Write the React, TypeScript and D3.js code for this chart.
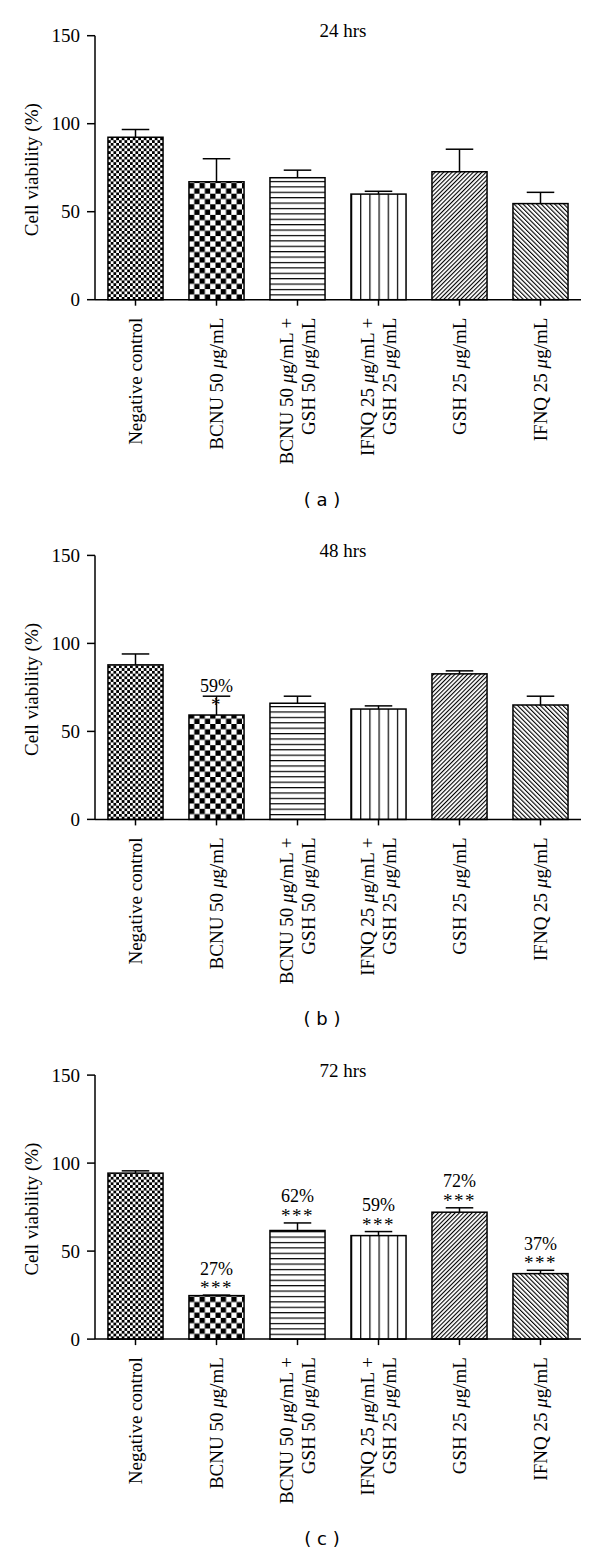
import React from 'react';
import * as d3 from 'd3';

// ---------- data ----------
const CATEGORY_LABELS: string[][] = [
  ['Negative control'],
  ['BCNU 50 μg/mL'],
  ['BCNU 50 μg/mL +', 'GSH 50 μg/mL'],
  ['IFNQ 25 μg/mL +', 'GSH 25 μg/mL'],
  ['GSH 25 μg/mL'],
  ['IFNQ 25 μg/mL'],
];
const CATEGORY_KEYS = ['neg', 'bcnu', 'bcnu_gsh', 'ifnq_gsh', 'gsh', 'ifnq'];

const TITLES = ['24 hrs', '48 hrs', '72 hrs'];
const PANEL_TAGS = ['( a )', '( b )', '( c )'];

const MEAN_24 = [92.3, 67.0, 69.3, 60.0, 72.7, 54.6];
const SEM_24 = [4.4, 13.1, 4.3, 1.6, 12.8, 6.4];
const MEAN_48 = [87.8, 59.3, 66.0, 62.7, 82.7, 65.0];
const SEM_48 = [6.2, 10.7, 4.0, 1.8, 1.7, 5.0];
const MEAN_72 = [94.3, 24.7, 61.7, 58.8, 72.1, 37.2];
const SEM_72 = [1.3, 0.3, 4.3, 2.3, 2.5, 1.9];

const PCT_48 = ['', '59%', '', '', '', ''];
const STARS_48 = ['', '*', '', '', '', ''];
const PCT_72 = ['', '27%', '62%', '59%', '72%', '37%'];
const STARS_72 = ['', '***', '***', '***', '***', '***'];

const Y_TICKS = [0, 50, 100, 150];

const PANELS = [
  { title: TITLES[0], tag: PANEL_TAGS[0], mean: MEAN_24, sem: SEM_24, pct: null as string[] | null, stars: null as string[] | null, anchorOnMean: false },
  { title: TITLES[1], tag: PANEL_TAGS[1], mean: MEAN_48, sem: SEM_48, pct: PCT_48, stars: STARS_48, anchorOnMean: true },
  { title: TITLES[2], tag: PANEL_TAGS[2], mean: MEAN_72, sem: SEM_72, pct: PCT_72, stars: STARS_72, anchorOnMean: false },
];

// ---------- layout ----------
const W = 600;
const H = 1555;
const X0 = 95;
const X1 = 581;
const PLOT_H = 264;
const FIRST_TOP = 35.7;
const PANEL_STEP = 519.7;
const SERIF = '"Liberation Serif", "Times New Roman", serif';
const SANS = '"DejaVu Sans", Verdana, sans-serif';

function MuText({ s }: { s: string }) {
  const parts = s.split('μ');
  const out: React.ReactNode[] = [];
  parts.forEach((p, i) => {
    if (i > 0) out.push(<tspan key={'m' + i} fontStyle="italic">μ</tspan>);
    out.push(<tspan key={'t' + i}>{p}</tspan>);
  });
  return <>{out}</>;
}

function Patterns({ pi, x, y0, bw }: { pi: number; x: d3.ScaleBand<string>; y0: number; bw: number }) {
  const ids = CATEGORY_KEYS.map((k) => `p${pi}-${k}`);
  const bx = (k: string) => x(k) as number;
  const fc = 2.75;
  const cc = 5.3;
  const vs = bw / 6;
  return (
    <>
      <pattern id={ids[0]} patternUnits="userSpaceOnUse" x={bx(CATEGORY_KEYS[0])} y={y0} width={fc * 2} height={fc * 2}>
        <rect width={fc * 2} height={fc * 2} fill="#fff" />
        <rect x={0} y={0} width={fc} height={fc} fill="#000" />
        <rect x={fc} y={fc} width={fc} height={fc} fill="#000" />
      </pattern>
      <pattern id={ids[1]} patternUnits="userSpaceOnUse" x={bx(CATEGORY_KEYS[1])} y={y0} width={cc * 2} height={cc * 2}>
        <rect width={cc * 2} height={cc * 2} fill="#fff" />
        <rect x={0} y={0} width={cc} height={cc} fill="#000" />
        <rect x={cc} y={cc} width={cc} height={cc} fill="#000" />
      </pattern>
      <pattern id={ids[2]} patternUnits="userSpaceOnUse" x={bx(CATEGORY_KEYS[2])} y={y0} width={10} height={5.4}>
        <rect width={10} height={5.4} fill="#fff" />
        <line x1={0} x2={10} y1={0.6} y2={0.6} stroke="#000" strokeWidth={1.2} />
      </pattern>
      <pattern id={ids[3]} patternUnits="userSpaceOnUse" x={bx(CATEGORY_KEYS[3])} y={y0} width={vs} height={10}>
        <rect width={vs} height={10} fill="#fff" />
        <line x1={0} x2={0} y1={0} y2={10} stroke="#000" strokeWidth={2.4} />
      </pattern>
      <pattern id={ids[4]} patternUnits="userSpaceOnUse" x={bx(CATEGORY_KEYS[4])} y={y0} width={3.0} height={10} patternTransform="rotate(45)">
        <rect width={3.0} height={10} fill="#fff" />
        <line x1={0} x2={0} y1={0} y2={10} stroke="#000" strokeWidth={2.2} />
      </pattern>
      <pattern id={ids[5]} patternUnits="userSpaceOnUse" x={bx(CATEGORY_KEYS[5])} y={y0} width={3.2} height={10} patternTransform="rotate(-45)">
        <rect width={3.2} height={10} fill="#fff" />
        <line x1={0} x2={0} y1={0} y2={10} stroke="#000" strokeWidth={2.2} />
      </pattern>
    </>
  );
}

function Panel({ pi }: { pi: number }) {
  const p = PANELS[pi];
  const top = FIRST_TOP + pi * PANEL_STEP;
  const y = d3.scaleLinear().domain([0, 150]).range([top + PLOT_H, top]);
  const x = d3.scaleBand<string>().domain(CATEGORY_KEYS).range([X0, X1]).paddingInner(0.32).paddingOuter(0.16);
  const bw = x.bandwidth();
  const y0 = y(0);
  const sw = 1.5;
  return (
    <g>
      <defs>
        <Patterns pi={pi} x={x} y0={y0} bw={bw} />
      </defs>
      {/* title */}
      <text x={343} y={top + 1.5} fontFamily={SERIF} fontSize={19} textAnchor="middle">{p.title}</text>
      {/* bars */}
      {CATEGORY_KEYS.map((k, i) => {
        const bx = x(k) as number;
        const cx = bx + bw / 2;
        const yt = y(p.mean[i]);
        const ye = y(p.mean[i] + p.sem[i]);
        const ya = p.anchorOnMean ? yt - 3 : ye;
        return (
          <g key={k}>
            <line x1={cx} x2={cx} y1={yt} y2={ye} stroke="#000" strokeWidth={sw} />
            <line x1={cx - bw / 4} x2={cx + bw / 4} y1={ye} y2={ye} stroke="#000" strokeWidth={sw} />
            <rect x={bx} y={yt} width={bw} height={y0 - yt} fill={`url(#p${pi}-${k})`} stroke="#000" strokeWidth={sw} />
            {p.stars && p.stars[i] ? (
              <text x={cx} y={ya - 1} fontFamily={SERIF} fontSize={19} textAnchor="middle" letterSpacing={1.5}>{p.stars[i]}</text>
            ) : null}
            {p.pct && p.pct[i] ? (
              <text x={cx} y={ya - 20.5} fontFamily={SERIF} fontSize={18} textAnchor="middle">{p.pct[i]}</text>
            ) : null}
          </g>
        );
      })}
      {/* y axis */}
      <line x1={X0} x2={X0} y1={y(150)} y2={y0} stroke="#000" strokeWidth={sw} />
      {Y_TICKS.map((t) => (
        <g key={t}>
          <line x1={X0 - 8} x2={X0} y1={y(t)} y2={y(t)} stroke="#000" strokeWidth={sw} />
          <text x={X0 - 15} y={y(t)} dy="0.35em" fontFamily={SERIF} fontSize={19} textAnchor="end">{t}</text>
        </g>
      ))}
      <text transform={`translate(${38},${(y(150) + y0) / 2 + 2}) rotate(-90)`} fontFamily={SERIF} fontSize={19} textAnchor="middle">Cell viability (%)</text>
      {/* x axis */}
      <line x1={X0} x2={X1} y1={y0} y2={y0} stroke="#000" strokeWidth={sw} />
      {CATEGORY_KEYS.map((k, i) => {
        const cx = (x(k) as number) + bw / 2;
        const lines = CATEGORY_LABELS[i];
        const offs = lines.length === 1 ? [0] : [-11.5, 11];
        return (
          <g key={'xt' + k}>
            <line x1={cx} x2={cx} y1={y0} y2={y0 + 6} stroke="#000" strokeWidth={sw} />
            <text transform={`translate(${cx},${y0 + 18}) rotate(-90)`} fontFamily={SERIF} fontSize={19} textAnchor="end">
              {lines.map((ln, j) => (
                <tspan key={j} x={0} y={offs[j]} dy="0.35em">
                  <MuText s={ln} />
                </tspan>
              ))}
            </text>
          </g>
        );
      })}
      {/* panel tag */}
      <text x={322} y={y0 + 206} fontFamily={SANS} fontSize={18} textAnchor="middle">{p.tag}</text>
    </g>
  );
}

export default function App() {
  return (
    <svg width={W} height={H} viewBox={`0 0 ${W} ${H}`} style={{ position: 'absolute', left: 0, top: 0, background: '#fff' }}>
      <rect width={W} height={H} fill="#fff" />
      {PANELS.map((_, i) => (
        <Panel key={i} pi={i} />
      ))}
    </svg>
  );
}
